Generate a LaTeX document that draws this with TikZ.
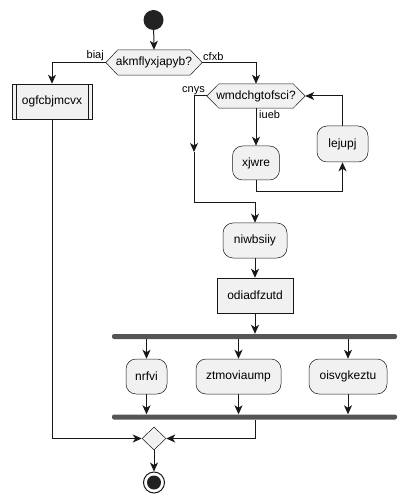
\documentclass[tikz,border=0pt]{standalone}
\usepackage{fontspec}
\setmainfont{Liberation Sans}
\usetikzlibrary{arrows.meta,shapes.geometric,backgrounds}
\definecolor{bfill}{HTML}{F1F1F1}
\definecolor{bline}{HTML}{181818}
\definecolor{barc}{HTML}{555555}
\definecolor{dot}{HTML}{222222}
\newcommand{\drawhex}[1]{%
  \begin{scope}[on background layer]
    \draw[draw=bline,line width=0.5pt,fill=bfill]
      ([xshift=12pt]#1.north west) -- ([xshift=-12pt]#1.north east) -- (#1.east)
      -- ([xshift=-12pt]#1.south east) -- ([xshift=12pt]#1.south west) -- (#1.west) -- cycle;
  \end{scope}}
\begin{document}
\begin{tikzpicture}[x=1pt,y=-1pt,
  conn/.style={draw=bline, line width=1pt},
  arr/.style={conn, -{Stealth[length=9pt,width=8pt,inset=2.5pt]}},
  act/.style={draw=bline, line width=0.5pt, fill=bfill, rounded corners=10pt, inner sep=0pt, font=\fontsize{12}{14}\selectfont},
  plainbox/.style={act, rounded corners=0pt},
  hexn/.style={inner sep=0pt, font=\fontsize{12}{14}\selectfont},
  lbl/.style={inner sep=1pt, font=\fontsize{11}{13}\selectfont},
  barbox/.style={fill=barc, draw=none, rounded corners=2pt, minimum height=5pt, minimum width=285pt, inner sep=0pt},
]
\useasboundingbox (0,0) rectangle (408,502);

% start
\node[circle, fill=dot, minimum size=20pt, inner sep=0pt] (start) at (153.5,20) {};
% first decision
\node[hexn, minimum width=96pt, minimum height=25pt] (d1) at (154,62.5) {akmflyxjapyb?};
\drawhex{d1}
\node[lbl, anchor=south east] (lb1) at (105,61.5) {biaj};
\node[lbl, anchor=south west] (lb2) at (202,61.5) {cfxb};

% left branch
\node[plainbox, minimum width=80pt, minimum height=35pt] (ogf) at (52,101.5) {ogfcbjmcvx};
\draw[draw=bline, line width=0.5pt] ([xshift=4pt]ogf.north west) -- ([xshift=4pt]ogf.south west);
\draw[draw=bline, line width=0.5pt] ([xshift=-4pt]ogf.north east) -- ([xshift=-4pt]ogf.south east);

% second decision
\node[hexn, minimum width=98pt, minimum height=24pt] (d2) at (256,96) {wmdchgtofsci?};
\drawhex{d2}
\node[lbl, anchor=south east] (lb3) at (206,95.5) {cnys};
\node[lbl, anchor=north west] (lb4) at (258,109) {iueb};

\node[act, minimum width=47pt, minimum height=34pt] (xj) at (256,163) {xjwre};
\node[act, minimum width=51pt, minimum height=36pt] (lej) at (342.5,144) {lejupj};

\node[act, minimum width=64pt, minimum height=35pt] (niw) at (255,240.5) {niwbsiiy};
\node[plainbox, minimum width=76pt, minimum height=35pt] (odi) at (255,295.5) {odiadfzutd};

\node[barbox] (fork) at (254.5,336.5) {};
\node[act, minimum width=41pt, minimum height=35pt] (nr) at (146.5,376.5) {nrfvi};
\node[act, minimum width=85pt, minimum height=35pt] (zt) at (238.5,376.5) {ztmoviaump};
\node[act, minimum width=78pt, minimum height=35pt] (oi) at (348,376.5) {oisvgkeztu};
\node[barbox] (join) at (254.5,417) {};

\node[diamond, draw=bline, line width=0.5pt, fill=bfill, minimum width=24pt, minimum height=23pt, inner sep=0pt] (merge) at (154,438.5) {};

\node[circle, draw=bline, line width=1pt, fill=white, minimum size=21pt, inner sep=0pt] (stop) at (154,482.5) {};
\node[circle, fill=dot, minimum size=14pt, inner sep=0pt] (stopin) at (stop.center) {};

% connectors
\draw[arr] (start) -- (d1.north);
\draw[arr] (d1.west) -| (ogf.north);
\draw[arr] (d1.east) -| (d2.north);
\draw[arr] (d2.south) -- (xj.north);
\draw[arr] (xj.south) |- ++(0,11) -| (lej.south);
\draw[arr] (lej.north) |- (d2.east);
\coordinate (c1) at (194,96);
\coordinate (c2) at (194,152);
\coordinate (c3) at (194,203);
\draw[arr] (d2.west) -- (c1) -- (c2);
\draw[arr] (c2) -- (c3) -| (niw.north);
\draw[arr] (niw.south) -- (odi.north);
\draw[arr] (odi.south) -- (odi.south |- fork.north);
\draw[arr] (nr.north |- fork.south) -- (nr.north);
\draw[arr] (zt.north |- fork.south) -- (zt.north);
\draw[arr] (oi.north |- fork.south) -- (oi.north);
\draw[arr] (nr.south) -- (nr.south |- join.north);
\draw[arr] (zt.south) -- (zt.south |- join.north);
\draw[arr] (oi.south) -- (oi.south |- join.north);
\draw[arr] (ogf.south) |- (merge.west);
\draw[arr] (join.south -| niw.south) |- (merge.east);
\draw[arr] (merge.south) -- (stop.north);
\end{tikzpicture}
\end{document}
